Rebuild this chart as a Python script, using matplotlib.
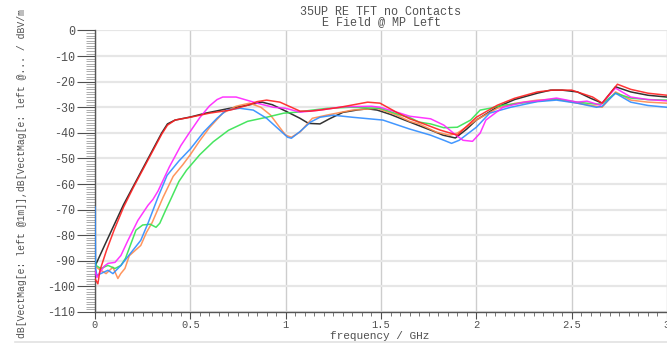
import matplotlib
matplotlib.use("Agg")
import matplotlib.pyplot as plt
from matplotlib.ticker import MultipleLocator, FuncFormatter
from matplotlib.lines import Line2D

# ---- traces: frequency (GHz) and field level (dBV/m) ----
freq_black = [0.0, 0.01, 0.05, 0.10, 0.15, 0.20, 0.25, 0.30, 0.35, 0.38, 0.42, 0.50, 0.58,
              0.70, 0.80, 0.876, 0.93, 1.0, 1.075, 1.12, 1.18, 1.23, 1.30, 1.38, 1.43, 1.48,
              1.55, 1.60, 1.70, 1.78, 1.825, 1.89, 1.95, 2.0, 2.11, 2.20, 2.32, 2.39, 2.45,
              2.53, 2.60, 2.66, 2.73, 2.81, 2.90, 3.0]
db_black = [-92, -90.5, -84, -76, -68, -61, -54, -47, -40, -36.5, -35, -33.8, -32.3,
            -30.5, -29.2, -28, -29, -31.5, -34.3, -36.3, -36.5, -34.5, -32, -31, -30.6, -31.1,
            -32.8, -34.3, -37.2, -39.5, -40.9, -42, -38.5, -35, -29.9, -27, -24.5, -23.3, -23.3,
            -24, -26.5, -28.4, -22, -24, -25.3, -26]

freq_red = [0.0, 0.015, 0.026, 0.06, 0.10, 0.15, 0.20, 0.25, 0.30, 0.35, 0.38, 0.42, 0.50,
            0.60, 0.71, 0.80, 0.85, 0.90, 0.97, 1.03, 1.075, 1.13, 1.18, 1.285, 1.43, 1.495,
            1.58, 1.65, 1.70, 1.81, 1.90, 2.0, 2.11, 2.20, 2.32, 2.40, 2.50, 2.61, 2.66, 2.74,
            2.81, 2.90, 3.0]
db_red = [-97, -99, -93.7, -86, -78, -69, -61.5, -54.5, -47.5, -40.5, -37, -35, -33.9,
          -32.3, -31.1, -29.2, -27.8, -27.2, -28, -30, -31.5, -31.5, -31.1, -30, -28, -28.4,
          -31.9, -34.5, -35.8, -38.9, -40.9, -33.9, -29.2, -26.5, -24, -23.3, -23.3, -26, -28.4, -21,
          -23, -24.5, -25.3]

freq_magenta = [0.0, 0.01, 0.03, 0.05, 0.068, 0.105, 0.136, 0.173, 0.225, 0.278, 0.304, 0.33,
                0.39, 0.45, 0.49, 0.55, 0.60, 0.64, 0.67, 0.74, 0.85, 0.935, 1.0, 1.075, 1.13,
                1.18, 1.30, 1.45, 1.495, 1.60, 1.65, 1.76, 1.83, 1.88, 1.93, 1.98, 2.02, 2.05,
                2.14, 2.25, 2.32, 2.42, 2.53, 2.58, 2.65, 2.73, 2.81, 2.90, 3.0]
db_magenta = [-94, -96.5, -94, -92, -91, -90.6, -87.9, -82, -74.2, -68.3, -66, -62.8,
              -53.3, -45, -40.5, -34, -29.5, -27, -26, -26, -28.4, -30, -30.4, -31.9, -31.5,
              -31.1, -29.8, -29.6, -30, -32.3, -33.5, -34.5, -37, -40.1, -42.9, -43.3, -40.1, -35,
              -30, -28, -27.5, -26.4, -28, -27.6, -29.2, -22.5, -26, -27, -27.5]

freq_blue = [0.0, 0.003, 0.01, 0.03, 0.068, 0.094, 0.136, 0.19, 0.24, 0.278, 0.33, 0.378,
             0.44, 0.50, 0.57, 0.64, 0.69, 0.76, 0.83, 0.90, 0.955, 1.01, 1.03, 1.075, 1.13,
             1.18, 1.25, 1.35, 1.51, 1.65, 1.76, 1.83, 1.87, 1.91, 2.0, 2.07, 2.18, 2.32, 2.42,
             2.53, 2.63, 2.66, 2.73, 2.81, 2.90, 3.0]
db_blue = [-69, -93, -95.7, -95, -93.7, -95, -91.8, -86.7, -82, -75.3, -65.2, -56.6,
           -51, -46.3, -39.7, -34.3, -31.1, -30.4, -31.1, -34.3, -38, -41.7, -42.1, -39.5, -35.8,
           -33.9, -33.1, -33.9, -35, -38.5, -40.9, -42.9, -44.1, -42.9, -37.8, -32.3, -30, -27.8, -27.2,
           -28.4, -30, -29.6, -24.5, -28, -29.3, -30]

freq_orange = [0.0, 0.016, 0.058, 0.094, 0.12, 0.135, 0.157, 0.18, 0.21, 0.24, 0.27, 0.30,
               0.357, 0.41, 0.46, 0.50, 0.55, 0.60, 0.67, 0.74, 0.81, 0.87, 0.92, 0.97, 1.0,
               1.03, 1.075, 1.14, 1.22, 1.35, 1.48, 1.58, 1.65, 1.70, 1.79, 1.86, 1.90, 2.0,
               2.11, 2.20, 2.32, 2.42, 2.53, 2.63, 2.66, 2.73, 2.81, 2.90, 3.0]
db_orange = [-92, -93, -95, -92.5, -96.9, -95, -93, -88, -86, -84, -78.9, -75,
             -65.2, -57, -52.5, -48.5, -43, -38, -32.3, -29.6, -28.4, -30, -33, -38, -40.9,
             -41.7, -39.7, -34.3, -33, -31.1, -30.4, -33, -35.5, -36.5, -39.7, -40.9, -40.1, -35,
             -30.4, -28.5, -27.2, -26.8, -28.4, -29.6, -30, -24, -27.2, -28, -28.4]

freq_green = [0.0, 0.005, 0.03, 0.068, 0.105, 0.136, 0.16, 0.19, 0.215, 0.25, 0.29, 0.32,
              0.34, 0.37, 0.40, 0.44, 0.48, 0.55, 0.62, 0.70, 0.80, 0.90, 0.99, 1.06, 1.14,
              1.22, 1.34, 1.495, 1.60, 1.65, 1.70, 1.76, 1.83, 1.90, 1.97, 2.02, 2.07, 2.14,
              2.28, 2.42, 2.53, 2.63, 2.66, 2.73, 2.81, 2.90, 3.0]
db_green = [-89, -91.8, -93, -91.8, -93, -91.8, -89, -83, -78, -76, -75.7, -76.9,
            -75.3, -70.3, -65.5, -59, -54.6, -48.5, -43.5, -39, -35.5, -33.9, -32.3, -31.9, -31.1,
            -30.4, -30, -30.4, -33, -34, -35.8, -36.5, -38, -37.8, -35, -31.1, -30.4, -29.2,
            -28, -26.8, -28, -28.8, -28.6, -24.5, -26.4, -27, -27.2]

x_ticks = [0, 0.5, 1, 1.5, 2, 2.5, 3]
y_ticks = list(range(-110, 1, 10))

title_text = "35UP RE TFT no Contacts\nE Field @ MP Left"
x_label = "frequency / GHz"
y_label = "dB[VectMag[e: left @1m]],dB[VectMag[e: left @... / dBV/m"

MONO = ["Liberation Mono", "DejaVu Sans Mono"]
TXT = "#505050"
W, H = 667, 343

fig = plt.figure(figsize=(W / 100, H / 100), dpi=100)
ax = fig.add_axes([95 / W, 1 - 312 / H, 572 / W, (312 - 30.5) / H])

traces = [
    (freq_black, db_black, "#1c1c1c"),
    (freq_orange, db_orange, "#ff8a4c"),
    (freq_green, db_green, "#33e34f"),
    (freq_blue, db_blue, "#2e8cff"),
    (freq_magenta, db_magenta, "#ff22ff"),
    (freq_red, db_red, "#ff2020"),
]
for f, d, c in traces:
    ax.plot(f, d, color=c, lw=1.1, alpha=0.9, solid_joinstyle="round", zorder=3)

ax.set_xlim(0, 3)
ax.set_ylim(-110, 0)
ax.set_xticks(x_ticks)
ax.set_yticks(y_ticks)
ax.xaxis.set_minor_locator(MultipleLocator(0.05))
ax.yaxis.set_minor_locator(MultipleLocator(1))
ax.xaxis.set_major_formatter(FuncFormatter(lambda v, p: f"{v:g}"))
ax.yaxis.set_major_formatter(FuncFormatter(lambda v, p: str(int(round(v)))))

ax.yaxis.grid(True, which="major", color="#e6e6e6", lw=1.6)
ax.xaxis.grid(True, which="major", color="#cdcdcd", lw=1.0)
ax.set_axisbelow(True)

for s in ("top", "right"):
    ax.spines[s].set_visible(False)
for s in ("left", "bottom"):
    ax.spines[s].set_color("#555555")
    ax.spines[s].set_linewidth(1.0)

ax.tick_params(axis="y", which="major", length=13, width=0.8, color="#505050",
               pad=1.5, labelsize=8.5, labelcolor=TXT)
ax.tick_params(axis="y", which="minor", length=6.5, width=0.6, color="#a0a0a0")
ax.tick_params(axis="x", which="major", length=5, width=0.8, color="#505050",
               pad=0.8, labelsize=7.5, labelcolor=TXT)
ax.tick_params(axis="x", which="minor", length=3, width=0.6, color="#606060")
for lab in ax.get_xticklabels() + ax.get_yticklabels():
    lab.set_family(MONO)

fig.text(381 / W, 1 - 17 / H, title_text, ha="center", va="center",
         multialignment="center", linespacing=0.8,
         fontsize=8.5, family=MONO, color=TXT)
fig.text(380 / W, 1 - 336 / H, x_label, ha="center", va="center",
         fontsize=8, family=MONO, color=TXT)
fig.text(22 / W, 1 - 174 / H, y_label, ha="center", va="center", rotation=90,
         fontsize=7, family=MONO, color=TXT)

fig.add_artist(Line2D([15 / W, 1], [1 - 342 / H] * 2, transform=fig.transFigure,
                      color="#e2e2e2", lw=1.2))

fig.savefig("out.png", dpi=100)
